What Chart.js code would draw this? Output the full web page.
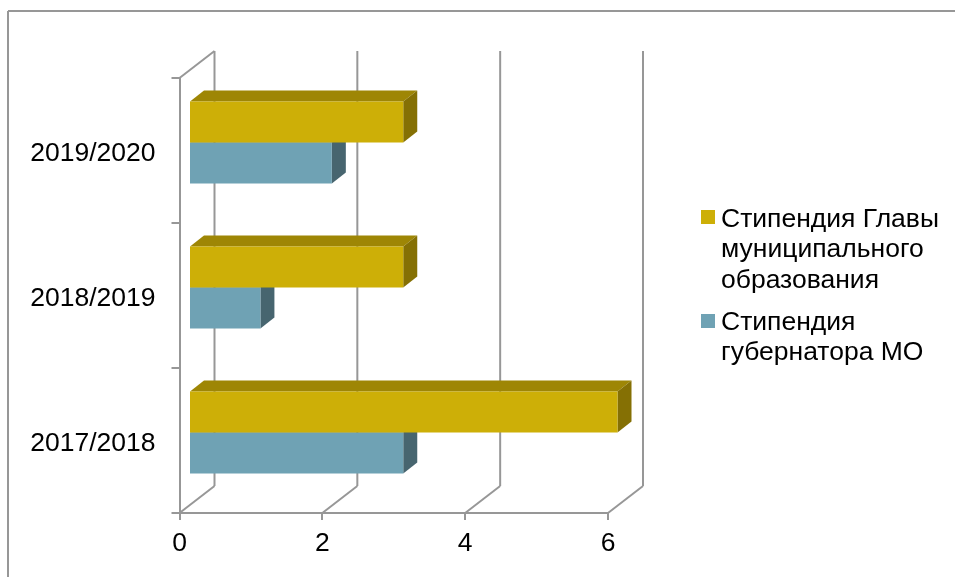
<!DOCTYPE html>
<html>
<head>
<meta charset="utf-8">
<script src="https://cdn.jsdelivr.net/npm/chart.js@4"></script>
<style>
  html, body { margin: 0; padding: 0; background: #fff; }
  canvas { display: block; }
</style>
</head>
<body>
<canvas id="chart" width="955" height="577"></canvas>
<script>
const categories = ['2019/2020', '2018/2019', '2017/2018'];
const glavaValues = [3, 3, 6];
const gubernatorValues = [2, 1, 3];
const glavaLabel = ['Стипендия Главы', 'муниципального', 'образования'];
const gubernatorLabel = ['Стипендия', 'губернатора МО'];

const fontFamily = '"Liberation Sans", Arial, sans-serif';
const fontSize = 26.5;
const gray = '#979797';

// depth of the fake 3D box and of its bars
const wallDx = 35, wallDy = 27;
const barDx = 14, barDy = 11;
const barShiftX = 9.5, barShiftY = -8;

const faceColors = {
    0: { top: '#9E8605', side: '#857004' },
    1: { top: '#47656F', side: '#47656F' }
};

function line(ctx, x1, y1, x2, y2) {
    ctx.beginPath();
    ctx.moveTo(x1, y1);
    ctx.lineTo(x2, y2);
    ctx.stroke();
}

function poly(ctx, pts, color) {
    ctx.fillStyle = color;
    ctx.beginPath();
    pts.forEach((p, i) => i ? ctx.lineTo(p[0], p[1]) : ctx.moveTo(p[0], p[1]));
    ctx.closePath();
    ctx.fill();
}

const wallPlugin = {
    id: 'wall',
    beforeDatasetsDraw(chart) {
        const ctx = chart.ctx;
        const { top, bottom } = chart.chartArea;
        const xs = chart.scales.x;
        ctx.save();
        ctx.strokeStyle = gray;
        ctx.lineWidth = 2;
        // outer frame
        line(ctx, 8, 577, 8, 11);
        line(ctx, 8, 11, 955, 11);
        xs.ticks.forEach((t, i) => {
            const px = xs.getPixelForValue(t.value);
            line(ctx, px, bottom, px + wallDx, bottom - wallDy);
            line(ctx, px + wallDx, bottom - wallDy, px + wallDx, top - wallDy);
            if (i === 0) line(ctx, px, top, px + wallDx, top - wallDy);
        });
        ctx.restore();
        // bars sit a bit inside the box
        ctx.save();
        ctx.translate(barShiftX, barShiftY);
    },
    beforeDatasetDraw(chart, args) {
        const ctx = chart.ctx;
        const colors = faceColors[args.index];
        args.meta.data.forEach(bar => {
            const y1 = bar.y - bar.height / 2;
            const y2 = bar.y + bar.height / 2;
            poly(ctx, [[bar.base, y1], [bar.x, y1], [bar.x + barDx, y1 - barDy], [bar.base + barDx, y1 - barDy]], colors.top);
            poly(ctx, [[bar.x, y1], [bar.x + barDx, y1 - barDy], [bar.x + barDx, y2 - barDy], [bar.x, y2]], colors.side);
        });
    },
    afterDatasetsDraw(chart) {
        chart.ctx.restore();
    }
};

const legendPlugin = {
    id: 'sideLegend',
    afterDraw(chart) {
        const ctx = chart.ctx;
        const entries = [
            { lines: glavaLabel, color: chart.data.datasets[0].backgroundColor, y: [227, 257, 287.5], box: 210 },
            { lines: gubernatorLabel, color: chart.data.datasets[1].backgroundColor, y: [329.5, 360], box: 314 }
        ];
        ctx.save();
        ctx.font = fontSize + 'px ' + fontFamily;
        ctx.textBaseline = 'alphabetic';
        ctx.textAlign = 'left';
        entries.forEach(e => {
            ctx.fillStyle = e.color;
            ctx.fillRect(701, e.box, 14, 14);
            ctx.fillStyle = '#000';
            e.lines.forEach((txt, i) => ctx.fillText(txt, 721, e.y[i]));
        });
        ctx.restore();
    }
};

new Chart(document.getElementById('chart'), {
    type: 'bar',
    data: {
        labels: categories,
        datasets: [
            { label: glavaLabel.join(' '), data: glavaValues, backgroundColor: '#CDAF07', clip: false },
            { label: gubernatorLabel.join(' '), data: gubernatorValues, backgroundColor: '#6FA2B4', clip: false }
        ]
    },
    options: {
        indexAxis: 'y',
        responsive: false,
        animation: false,
        devicePixelRatio: 1,
        layout: { padding: { top: 78, right: 347, left: 0, bottom: 0 } },
        datasets: { bar: { categoryPercentage: 0.566, barPercentage: 1 } },
        plugins: {
            legend: { display: false },
            tooltip: { enabled: false }
        },
        scales: {
            x: {
                min: 0,
                max: 6,
                afterFit: s => { s.height = 64; },
                border: { color: gray, width: 2 },
                grid: { drawOnChartArea: false, color: gray, lineWidth: 2, tickLength: 7 },
                ticks: {
                    stepSize: 2,
                    color: '#000',
                    padding: 8,
                    maxRotation: 0,
                    font: { family: fontFamily, size: fontSize }
                }
            },
            y: {
                afterFit: s => { s.width = 179.5; },
                border: { color: gray, width: 2 },
                grid: { drawOnChartArea: false, color: gray, lineWidth: 2, tickLength: 8 },
                ticks: {
                    color: '#000',
                    padding: 16,
                    labelOffset: 3,
                    font: { family: fontFamily, size: fontSize }
                }
            }
        }
    },
    plugins: [wallPlugin, legendPlugin]
});
</script>
</body>
</html>
